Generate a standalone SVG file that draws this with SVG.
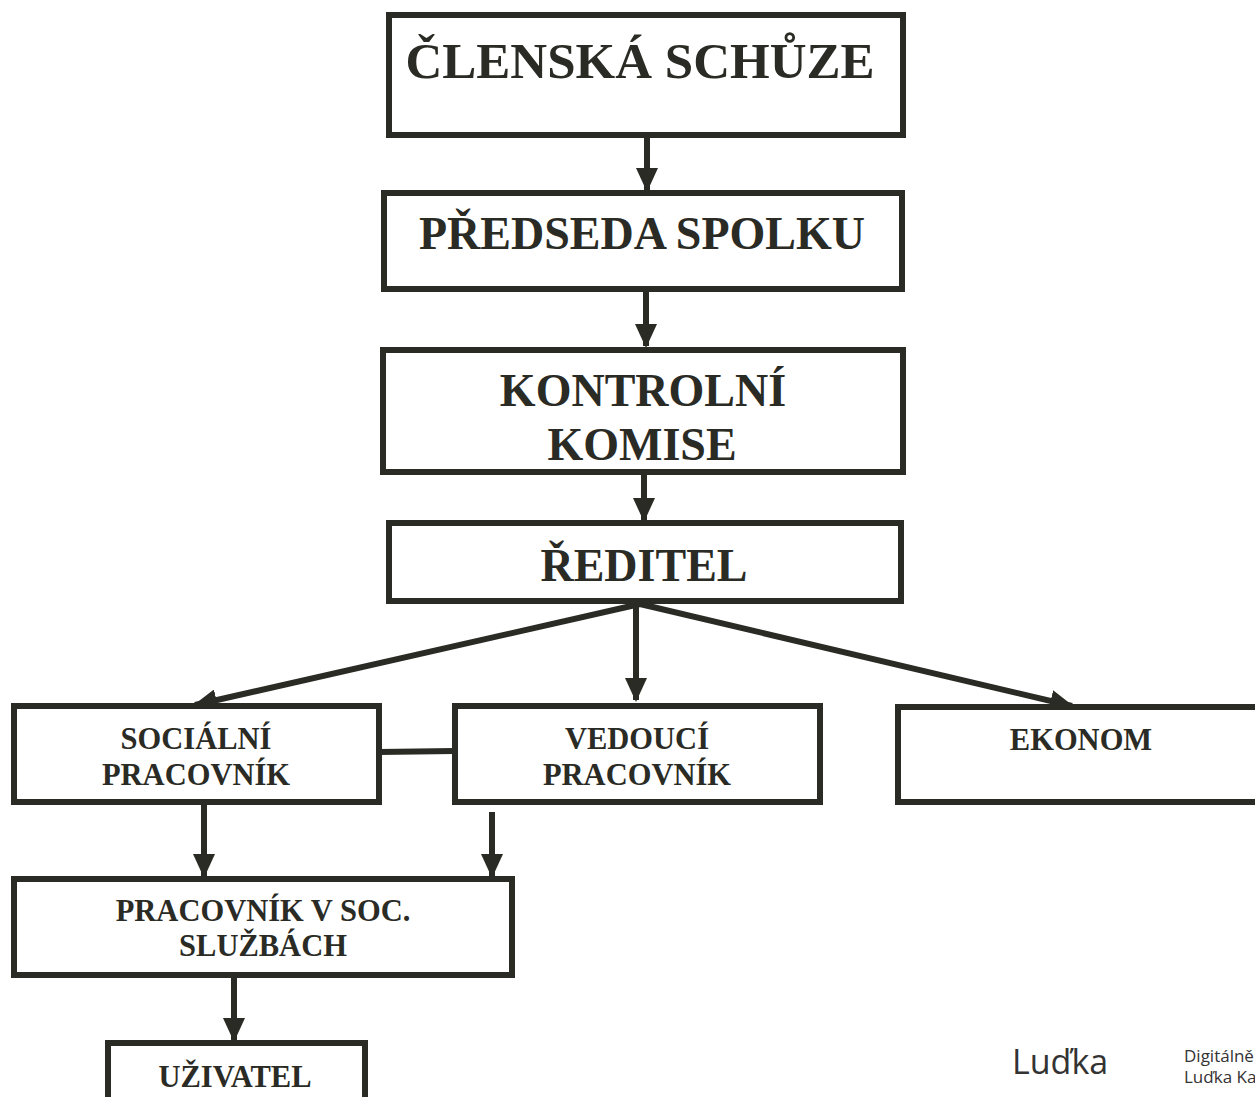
<svg xmlns="http://www.w3.org/2000/svg" width="1255" height="1097" viewBox="0 0 1255 1097">
<style>
.box{fill:#fff;stroke:#2b2b25;stroke-width:6}
.t{font-family:"Liberation Serif",serif;font-weight:bold;fill:#2b2b25;text-anchor:middle}
.b{font-size:46px}
.m{font-size:30.5px}
.l{stroke:#2b2b25;stroke-width:6;fill:none}
.s{font-family:"Open Sans","Noto Sans",sans-serif;fill:#333}
</style>
<defs>
<marker id="ah" viewBox="0 0 24 22" refX="22" refY="11" markerWidth="24" markerHeight="22" markerUnits="userSpaceOnUse" orient="auto">
<path d="M0,0 L24,11 L0,22 Z" fill="#2b2b25"/>
</marker>
</defs>
<rect width="1255" height="1097" fill="#fff"/>
<g id="connectors">
<line class="l" x1="647" y1="135" x2="647" y2="190" marker-end="url(#ah)"/>
<line class="l" x1="646" y1="289" x2="646" y2="346" marker-end="url(#ah)"/>
<line class="l" x1="644" y1="468" x2="644" y2="520" marker-end="url(#ah)"/>
<line class="l" x1="640" y1="604" x2="195" y2="705" marker-end="url(#ah)"/>
<line class="l" x1="636" y1="604" x2="636" y2="700" marker-end="url(#ah)"/>
<line class="l" x1="640" y1="604" x2="1072" y2="706" marker-end="url(#ah)"/>
<line class="l" x1="379" y1="752" x2="454" y2="751"/>
<line class="l" x1="204" y1="803" x2="204" y2="876" marker-end="url(#ah)"/>
<line class="l" x1="492" y1="812" x2="492" y2="876" marker-end="url(#ah)"/>
<line class="l" x1="234" y1="976" x2="234" y2="1040" marker-end="url(#ah)"/>
</g>
<g id="clenska">
<rect class="box" x="389" y="15" width="514" height="120"/>
<text class="t" x="640" y="78" font-size="51">ČLENSKÁ SCHŮZE</text>
</g>
<g id="predseda">
<rect class="box" x="384" y="193" width="518" height="96"/>
<text class="t b" x="642" y="249">PŘEDSEDA SPOLKU</text>
</g>
<g id="kontrolni">
<rect class="box" x="383" y="350" width="520" height="122"/>
<text class="t b" x="643" y="406">KONTROLNÍ</text>
<text class="t b" x="642" y="460">KOMISE</text>
</g>
<g id="reditel">
<rect class="box" x="389" y="523" width="512" height="78"/>
<text class="t b" x="644" y="581">ŘEDITEL</text>
</g>
<g id="socialni">
<rect class="box" x="14" y="706" width="365" height="96"/>
<text class="t m" x="196" y="749">SOCIÁLNÍ</text>
<text class="t m" x="196" y="785">PRACOVNÍK</text>
</g>
<g id="vedouci">
<rect class="box" x="455" y="706" width="365" height="96"/>
<text class="t m" x="637" y="749">VEDOUCÍ</text>
<text class="t m" x="637" y="785">PRACOVNÍK</text>
</g>
<g id="ekonom">
<rect class="box" x="898" y="707" width="370" height="95"/>
<text class="t m" x="1081" y="750">EKONOM</text>
</g>
<g id="pracovnik">
<rect class="box" x="14" y="879" width="498" height="96"/>
<text class="t m" x="263" y="921">PRACOVNÍK V SOC.</text>
<text class="t m" x="263" y="956">SLUŽBÁCH</text>
</g>
<g id="uzivatel">
<rect class="box" x="108" y="1043" width="257" height="70"/>
<text class="t m" x="235" y="1087">UŽIVATEL</text>
</g>
<g id="signature">
<text class="s" x="1012" y="1074" font-size="34">Luďka</text>
<text class="s" x="1184" y="1062" font-size="17">Digitálně</text>
<text class="s" x="1184" y="1083" font-size="17">Luďka Ka</text>
</g>
</svg>
